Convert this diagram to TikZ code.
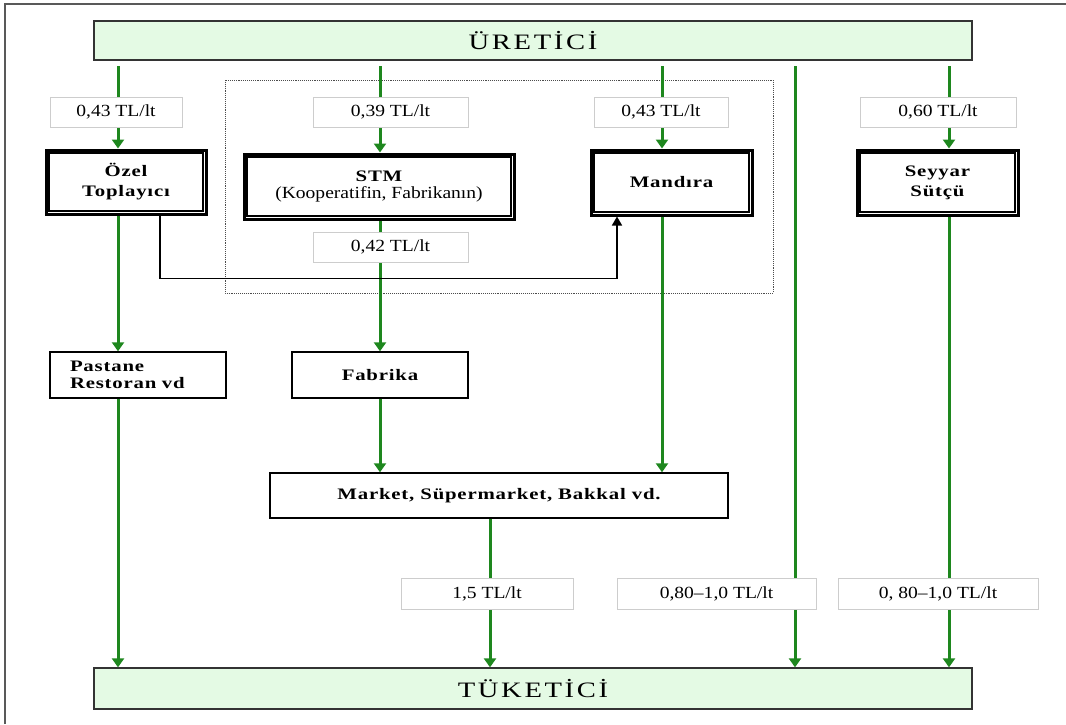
\documentclass[tikz,border=0pt]{standalone}
\usepackage{fontspec}
\setmainfont{Liberation Serif}
\newfontfamily\lblfont[FakeStretch=1.15]{Liberation Serif}
\newfontfamily\boxfont[FakeStretch=1.3,LetterSpace=5]{Liberation Serif}
\newfontfamily\endfont[FakeStretch=1.3,LetterSpace=12]{Liberation Serif}
\usepackage{tikz}
\usetikzlibrary{calc}
\usetikzlibrary{arrows.meta}
\definecolor{flowgreen}{RGB}{30,135,30}
\definecolor{endfill}{RGB}{228,250,228}
\definecolor{lblgray}{RGB}{205,205,205}

\begin{document}
\begin{tikzpicture}[x=1pt,y=-1pt,
    flow/.style={draw=flowgreen, line width=3pt, -{Triangle[width=12pt,length=9pt]}},
    feed/.style={draw=black, line width=1.5pt, -{Triangle[width=10pt,length=9pt]}},
    endbox/.style={draw=black!80, fill=endfill, line width=1.3pt, inner sep=0pt,
      font=\endfont\fontsize{22}{26}\selectfont},
    dblbox/.style={draw=black, line width=3pt, fill=white, inner sep=0pt, align=center,
      font=\boxfont\bfseries\fontsize{16}{20}\selectfont},
    plainbox/.style={draw=black, line width=1.4pt, fill=white, inner sep=0pt, align=center,
      font=\boxfont\bfseries\fontsize{16}{17}\selectfont},
    price/.style={draw=lblgray, fill=white, line width=0.9pt, inner sep=0pt,
      minimum height=30pt, font=\lblfont\fontsize{17}{20}\selectfont}]

  \useasboundingbox (0,0) rectangle (1066,724);
  \draw[draw=black!65, line width=1.6pt] (5,724) -- (5,4) -- (1066,4);

  % producer and consumer
  \node[endbox, minimum width=878pt, minimum height=39pt] (uretici) at (533,40.5) {ÜRETİCİ};
  \node[endbox, minimum width=878pt, minimum height=41pt] (tuketici) at (533,688.5) {TÜKETİCİ};

  % cooperative frame
  \draw[densely dotted, draw=black!70, line width=0.9pt] (225,80) rectangle (773,293);

  % collectors
  \node[dblbox, minimum width=160pt, minimum height=64pt] (ozel) at (126,182) {Özel\\Toplayıcı};
  \node[dblbox, minimum width=270pt, minimum height=65pt] (stm) at (379,186.5)
    {STM\\[-3pt]{\lblfont\mdseries\fontsize{17}{18}\selectfont(Kooperatifin, Fabrikanın)}};
  \node[dblbox, minimum width=161pt, minimum height=65pt] (mandira) at (671.5,182.5) {Mandıra};
  \node[dblbox, minimum width=161pt, minimum height=65pt] (seyyar) at (937.5,182.5) {Seyyar\\Sütçü};
  \foreach \n in {ozel,stm,mandira,seyyar}
    \draw[line width=1.2pt] ([shift={(4.5,4.5)}]\n.north west) rectangle ([shift={(-4.5,-4.5)}]\n.south east);

  % buyers
  \node[plainbox, minimum height=46pt, text width=136pt, inner xsep=20pt, align=left] (pastane) at (138,375) {Pastane\\Restoran vd};
  \node[plainbox, minimum width=176pt, minimum height=46pt] (fabrika) at (380,375) {Fabrika};
  \node[plainbox, minimum width=458pt, minimum height=45pt] (market) at (499,495.5) {Market, Süpermarket, Bakkal vd.};

  % flows
  \foreach \n/\x in {a/118,b/380,c/662,d/795,e/949}
    \coordinate (top\n) at (\x,66);
  \coordinate (mkt) at (490,0);

  \draw[flow] (topa) -- (ozel.north -| topa);
  \draw[flow] (ozel.south -| topa) -- (pastane.north -| topa);
  \draw[flow] (pastane.south -| topa) -- (tuketici.north -| topa);
  \draw[flow] (topb) -- (stm.north -| topb);
  \draw[flow] (stm.south -| topb) -- (fabrika.north -| topb);
  \draw[flow] (fabrika.south -| topb) -- (market.north -| topb);
  \draw[flow] (topc) -- (mandira.north -| topc);
  \draw[flow] (mandira.south -| topc) -- (market.north -| topc);
  \draw[flow] (topd) -- (tuketici.north -| topd);
  \draw[flow] (tope) -- (seyyar.north -| tope);
  \draw[flow] (seyyar.south -| tope) -- (tuketici.north -| tope);
  \draw[flow] (market.south -| mkt) -- (tuketici.north -| mkt);

  \draw[feed] ($(ozel.south)+(34,0)$) -- ++(0,63) -| ($(mandira.south)+(-54.5,0)$);

  % prices
  \node[price, minimum width=132pt] (p1) at (116,112) {0,43 TL/lt};
  \node[price, minimum width=155pt] (p2) at (390.5,112) {0,39 TL/lt};
  \node[price, minimum width=134pt] (p3) at (661,112) {0,43 TL/lt};
  \node[price, minimum width=156pt] (p4) at (938,112) {0,60 TL/lt};
  \node[price, minimum width=155pt] (p5) at (390.5,247) {0,42 TL/lt};
  \node[price, minimum width=172pt, minimum height=31pt] (p6) at (487,593.5) {1,5 TL/lt};
  \node[price, minimum width=199pt, minimum height=31pt] (p7) at (716.5,593.5) {0,80–1,0 TL/lt};
  \node[price, minimum width=200pt, minimum height=31pt] (p8) at (938,593.5) {0, 80–1,0 TL/lt};
\end{tikzpicture}
\end{document}
